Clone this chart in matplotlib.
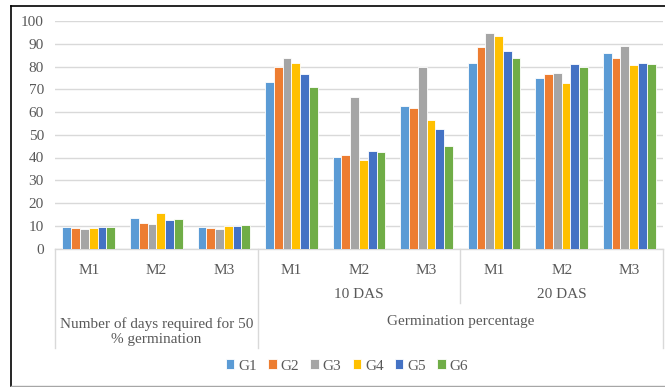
import numpy as np
import matplotlib.pyplot as plt
from matplotlib.lines import Line2D
from matplotlib.transforms import blended_transform_factory

plt.rcParams['font.family'] = ['Liberation Serif', 'DejaVu Serif']

sub_labels = ["M1", "M2", "M3", "M1", "M2", "M3", "M1", "M2", "M3"]
mid_labels = ["10 DAS", "20 DAS"]
top_labels = ["Number of days required for 50\n% germination", "Germination percentage"]
series = ["G1", "G2", "G3", "G4", "G5", "G6"]
colors = ["#5B9BD5", "#ED7D31", "#A5A5A5", "#FFC000", "#4472C4", "#70AD47"]

G1 = [9.3, 13.3, 9.5, 73.1, 40.1, 62.5, 81.7, 74.9, 85.8]
G2 = [8.9, 11.2, 9.2, 79.8, 41.0, 61.9, 88.4, 76.6, 83.9]
G3 = [8.5, 10.8, 8.7, 83.7, 66.7, 79.8, 94.7, 77.0, 88.8]
G4 = [8.9, 15.5, 9.9, 81.7, 39.0, 56.5, 93.4, 72.7, 80.8]
G5 = [9.3, 12.5, 9.8, 76.6, 42.9, 52.4, 86.7, 81.0, 81.5]
G6 = [9.3, 12.8, 10.3, 71.0, 42.3, 45.1, 83.6, 79.9, 81.1]
values = [G1, G2, G3, G4, G5, G6]

W, H = 665, 387
txt = "#595959"
fs = 11
fig = plt.figure(figsize=(W / 100, H / 100), dpi=100)
ax = fig.add_axes([55 / W, 1 - 248.5 / H, (663 - 55) / W, (248.5 - 21) / H])

x = np.arange(len(sub_labels))
bw = 0.13
for i, (name, vals) in enumerate(zip(series, values)):
    ax.bar(x + (i - 2.5) * bw, vals, bw, color=colors[i], edgecolor="white",
           linewidth=0.6, label=name, zorder=3)

ax.set_xlim(-0.5, 8.5)
ax.set_ylim(0, 100)
ax.set_yticks(range(0, 101, 10))
ax.yaxis.grid(True, color="#D9D9D9", linewidth=1, zorder=0)
for s in ax.spines.values():
    s.set_visible(False)
ax.tick_params(axis="y", length=0, labelsize=fs, labelcolor=txt, pad=8)
ax.set_xticks([])

# category axis lines and labels
tr = blended_transform_factory(ax.transData, fig.transFigure)
ax.add_line(Line2D([-0.5, 8.5], [1 - 248.5 / H] * 2, transform=tr, color="#D9D9D9",
                   lw=1, clip_on=False))
for xv, ybot in [(-0.5, 348), (2.5, 348), (5.5, 303), (8.5, 348)]:
    ax.add_line(Line2D([xv, xv], [1 - 248.5 / H, 1 - ybot / H], transform=tr,
                       color="#D9D9D9", lw=1, clip_on=False))

for xi, lab in zip(x, sub_labels):
    ax.text(xi, 1 - 270 / H, lab, transform=tr, ha="center", va="center",
            fontsize=fs, color=txt)
for xi, lab in zip([4, 7], mid_labels):
    ax.text(xi, 1 - 295 / H, lab, transform=tr, ha="center", va="center",
            fontsize=fs, color=txt)
ax.text(1, 1 - 331.5 / H, top_labels[0], transform=tr, ha="center", va="center",
        fontsize=fs, color=txt, linespacing=1.2)
ax.text(5.5, 1 - 322 / H, top_labels[1], transform=tr, ha="center", va="center",
        fontsize=fs, color=txt)

fig.legend(*ax.get_legend_handles_labels(), loc="center", bbox_to_anchor=(347 / W, 1 - 366 / H),
           ncol=6, frameon=False, fontsize=fs, handlelength=0.55, handleheight=0.55,
           handletextpad=0.25, columnspacing=0.75, labelcolor=txt)

# outer border
fig.add_artist(Line2D([10.5 / W, 1], [1 - 6 / H] * 2, color="black", lw=1.2))
fig.add_artist(Line2D([10.5 / W] * 2, [1 - 6 / H, 1 - 386 / H], color="black", lw=1.2))
fig.add_artist(Line2D([10.5 / W, 1], [1 - 386 / H] * 2, color="#A6A6A6", lw=1))

fig.savefig("out.png", dpi=100)
